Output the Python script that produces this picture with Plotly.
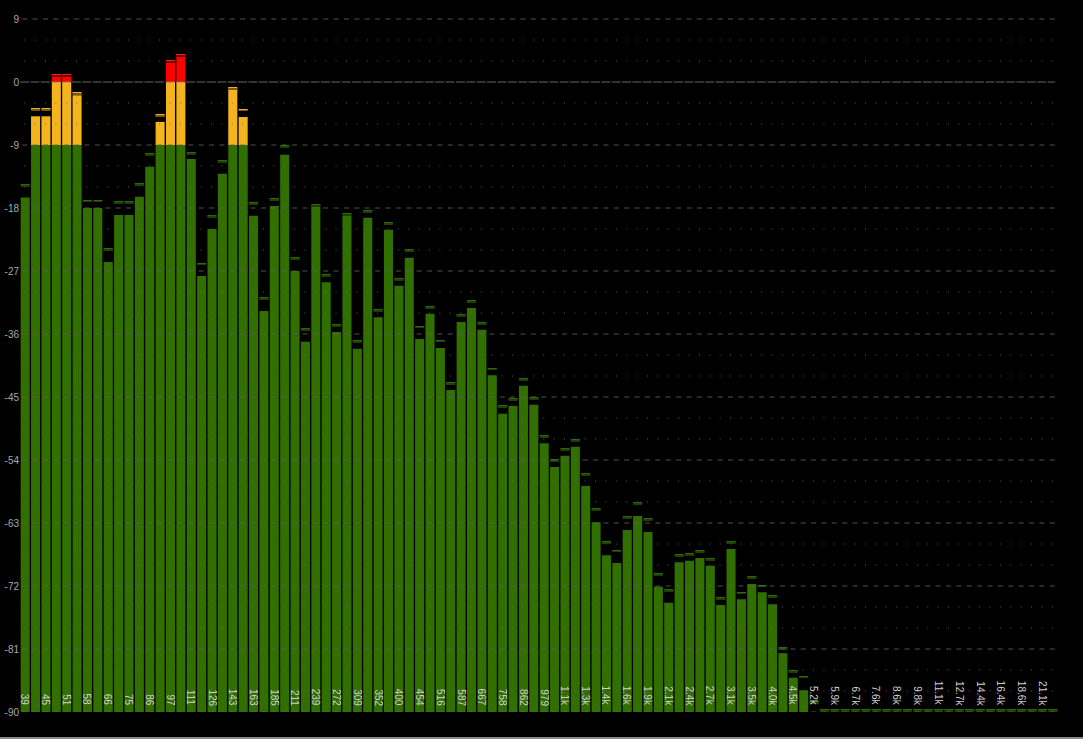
import numpy as np
import plotly.graph_objects as go

# ---- data -------------------------------------------------------------
band_labels = [
    "39", "", "45", "", "51", "", "58", "", "66", "", "75", "", "86", "", "97", "",
    "111", "", "126", "", "143", "", "163", "", "185", "", "211", "", "239", "",
    "272", "", "309", "", "352", "", "400", "", "454", "", "516", "", "587", "",
    "667", "", "758", "", "862", "", "979", "", "1.1k", "", "1.3k", "", "1.4k", "",
    "1.6k", "", "1.9k", "", "2.1k", "", "2.4k", "", "2.7k", "", "3.1k", "", "3.5k", "",
    "4.0k", "", "4.5k", "", "5.2k", "", "5.9k", "", "6.7k", "", "7.6k", "", "8.6k", "",
    "9.8k", "", "11.1k", "", "12.7k", "", "14.4k", "", "16.4k", "", "18.6k", "", "21.1k", "",
]

level_db = [
    -16.5, -4.9, -4.9, 1.0, 1.0, -1.9, -18.0, -18.0, -25.7, -19.0,
    -19.0, -16.4, -12.1, -5.7, 3.1, 4.0, -11.0, -27.7, -21.0, -13.1,
    -1.0, -5.0, -19.1, -32.7, -17.7, -10.4, -27.0, -37.1, -17.8, -28.6,
    -35.7, -19.1, -38.1, -19.4, -33.6, -21.1, -29.1, -25.1, -36.7, -33.1,
    -38.0, -44.0, -34.3, -32.3, -35.4, -41.9, -47.4, -46.3, -43.4, -46.1,
    -51.6, -55.0, -53.4, -52.1, -57.7, -62.9, -67.6, -68.7, -64.0, -62.0,
    -64.3, -72.1, -74.4, -68.6, -68.4, -68.0, -69.1, -74.7, -66.7, -73.9,
    -71.7, -72.9, -74.6, -81.6, -85.1, -86.9, -90.0, -90.0, -90.0, -90.0,
    -90.0, -90.0, -90.0, -90.0, -90.0, -90.0, -90.0, -90.0, -90.0, -90.0,
    -90.0, -90.0, -90.0, -90.0, -90.0, -90.0, -90.0, -90.0, -90.0, -90.0,
]

peak_db = [
    -14.8, -3.9, -3.9, 0.86, 0.86, -1.6, -17.0, -17.0, -23.9, -17.2,
    -17.2, -14.6, -10.3, -4.8, 2.95, 3.85, -10.2, -26.0, -19.2, -11.4,
    -0.88, -4.0, -17.3, -30.9, -16.8, -9.2, -25.2, -35.4, -17.7, -27.7,
    -34.8, -18.9, -37.1, -18.5, -32.7, -20.2, -28.2, -24.1, -35.0, -32.2,
    -37.0, -43.1, -33.4, -31.4, -34.5, -41.0, -46.4, -45.4, -42.5, -45.2,
    -50.7, -54.1, -52.5, -51.2, -56.1, -61.1, -65.8, -67.0, -62.2, -60.2,
    -62.5, -70.4, -72.7, -67.7, -67.5, -67.1, -68.2, -73.8, -65.8, -73.0,
    -70.8, -72.0, -73.5, -80.9, -84.2, -85.0, -88.6, -89.8, -89.8, -89.8,
    -89.8, -89.8, -89.8, -89.8, -89.8, -89.8, -89.8, -89.8, -89.8, -89.8,
    -89.8, -89.8, -89.8, -89.8, -89.8, -89.8, -89.8, -89.8, -89.8, -89.8,
]

y_ticks = [9, 0, -9, -18, -27, -36, -45, -54, -63, -72, -81, -90]

FLOOR, WARN, CLIP = -90.0, -9.0, 0.0

# ---- derived layers ---------------------------------------------------
x = np.arange(len(level_db))
v = np.array(level_db)
p = np.array(peak_db)

green_h = np.minimum(v, WARN) - FLOOR
orange_h = np.clip(np.minimum(v, CLIP) - WARN, 0, None)
red_h = np.clip(v - CLIP, 0, None)

GREEN, ORANGE, RED = "#317000", "#f4b41e", "#ff0000"
row = 1.0 / 7.0  # one pixel in dB

def zone_color(val, g, o, r):
    return [r if a > CLIP else (o if a > WARN else g) for a in val]

fig = go.Figure()
fig.add_trace(go.Bar(x=x, y=green_h, base=FLOOR, marker_color=GREEN,
                     marker_line_width=0, hoverinfo="skip"))
fig.add_trace(go.Bar(x=x, y=orange_h, base=WARN, marker_color=ORANGE,
                     marker_line_width=0, hoverinfo="skip"))
fig.add_trace(go.Bar(x=x, y=red_h, base=CLIP, marker_color=RED,
                     marker_line_width=0, hoverinfo="skip"))
# peak-hold markers: bright row above, dark row below
fig.add_trace(go.Bar(x=x, y=np.full(len(p), row), base=np.maximum(p, FLOOR),
                     marker_color=zone_color(p, "#2f6a00", "#f0b020", "#ff2020"),
                     marker_line_width=0, hoverinfo="skip"))
fig.add_trace(go.Bar(x=x, y=np.full(len(p), row), base=np.maximum(p - row, FLOOR),
                     marker_color=zone_color(p, "#1c4000", "#7a5810", "#700000"),
                     marker_line_width=0, hoverinfo="skip"))

# ---- grid drawn over bars ---------------------------------------------
shapes = []
for g in range(-90, 10, 3):
    if g == 0:
        dash, col, x0 = "9px,1.38px", "rgba(120,120,120,0.85)", -0.5
    elif g % 9 == 0:
        dash, col, x0 = "5px,5.38px", "rgba(95,95,95,0.85)", -0.5 + 2.2 / 10.38
    else:
        dash, col, x0 = "1px,9.38px", "rgba(105,105,105,0.85)", -0.5 + 4.2 / 10.38
    shapes.append(dict(type="line", xref="x", yref="y", x0=x0, x1=99.2, y0=g, y1=g,
                       line=dict(color=col, width=1, dash=dash), layer="above"))

# bottom frame strip
shapes.append(dict(type="rect", xref="paper", yref="paper",
                   x0=-20 / 1038, x1=1063 / 1038, y0=-27 / 700, y1=-25 / 700,
                   line=dict(width=0), fillcolor="#8a8a8a", layer="above"))

# ---- band labels inside bars -----------------------------------------
annotations = []
for i, lab in enumerate(band_labels):
    if lab:
        annotations.append(dict(x=i, y=FLOOR, xref="x", yref="y", text=lab,
                                textangle=90, showarrow=False, xanchor="center",
                                yanchor="bottom", yshift=4,
                                font=dict(family="Liberation Sans", size=10,
                                          color="#d0d0d0")))

fig.update_layout(
    width=1083, height=739,
    margin=dict(l=20, r=25, t=12, b=27, autoexpand=False),
    paper_bgcolor="#000000", plot_bgcolor="#000000",
    barmode="overlay", bargap=0.13,
    showlegend=False,
    shapes=shapes, annotations=annotations,
    xaxis=dict(range=[-0.5, 99.5], showgrid=False, zeroline=False,
               showticklabels=False, showline=False, fixedrange=True,
               automargin=False),
    yaxis=dict(range=[-90, 10], tickvals=y_ticks, ticktext=[str(t) for t in y_ticks],
               showgrid=False, zeroline=False, showline=False, ticks="",
               automargin=False,
               tickfont=dict(family="Liberation Sans", size=10, color="#a8a8a8"),
               fixedrange=True),
)

fig.write_html(
    "out.html",
    config={"displayModeBar": False},
    post_script="document.body.style.margin='0';document.body.style.background='#000';",
)
